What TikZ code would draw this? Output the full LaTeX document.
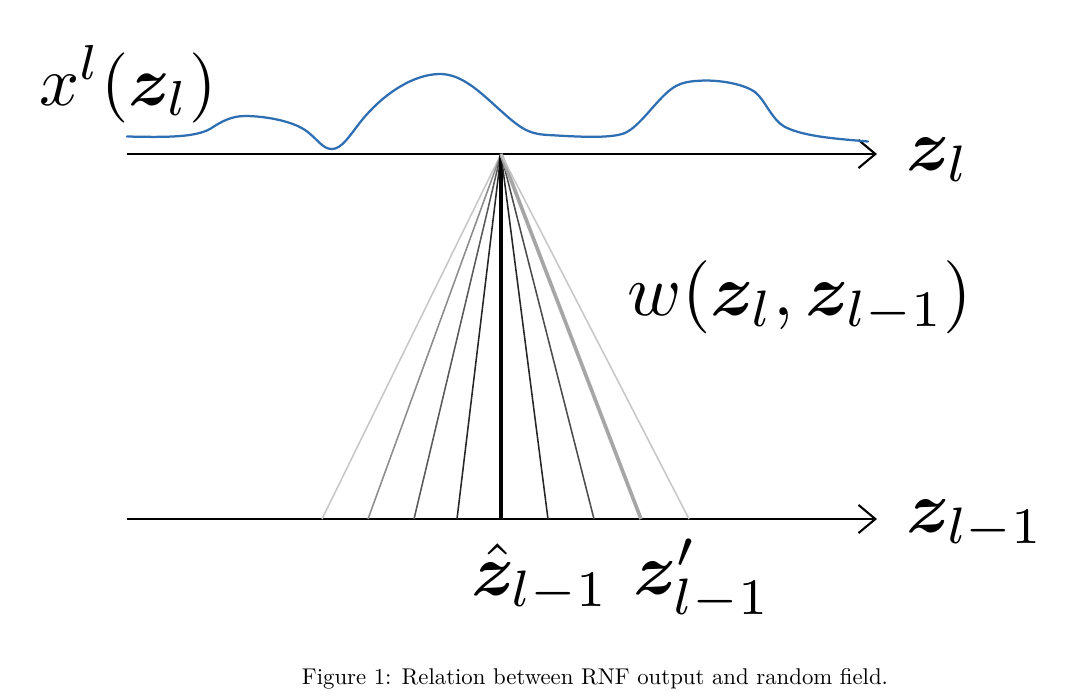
\documentclass[tikz,border=0pt]{standalone}
\usepackage{amsmath,bm}
\usetikzlibrary{arrows.meta}
\definecolor{curveblue}{RGB}{46,110,178}
\tikzset{
  axis/.style={line width=1.5pt,-{Straight Barb[length=12pt,width=20pt,line width=1.5pt]}},
  fanline/.style={line width=1.1pt},
  biglabel/.style={scale=5.2, inner sep=0pt},
}
\begin{document}
\begin{tikzpicture}[x=0.025cm,y=-0.025cm]
\useasboundingbox (0,0) rectangle (1080,698);
% axes
\coordinate (tl) at (127,154);
\coordinate (tr) at (877,154);
\coordinate (bl) at (127,519);
\coordinate (br) at (877,519);
\draw[axis] (tl) -- (tr);
\draw[axis] (bl) -- (br);
% fan
\coordinate (apex) at (501,154);
\coordinate (b1) at (322,519);
\coordinate (b2) at (368,519);
\coordinate (b3) at (414,519);
\coordinate (b4) at (457,519);
\coordinate (b5) at (501,519);
\coordinate (b6) at (548,519);
\coordinate (b7) at (594,519);
\coordinate (b8) at (641,519);
\coordinate (b9) at (689,519);
\draw[fanline, black!22] (apex) -- (b1);
\draw[fanline, black!45] (apex) -- (b2);
\draw[fanline, black!65] (apex) -- (b3);
\draw[fanline, black!85] (apex) -- (b4);
\draw[line width=3pt, black] (apex) -- (b5);
\draw[fanline, black!85] (apex) -- (b6);
\draw[fanline, black!70] (apex) -- (b7);
\draw[line width=2.6pt, black!35] (apex) -- (b8);
\draw[fanline, black!22] (apex) -- (b9);
% curve
\draw[curveblue, line width=1.6pt, line cap=round, line join=round]
  (127,136.5) .. controls (170,137.5) and (195,137) .. (210,129)
  .. controls (222,121) and (232,116) .. (245,116)
  .. controls (262,116) and (290,120) .. (305,130)
  .. controls (318,139) and (322,149) .. (332,149)
  .. controls (342,149) and (350,135) .. (362,120)
  .. controls (385,92) and (415,74) .. (440,74)
  .. controls (462,74) and (480,92) .. (500,110)
  .. controls (520,128) and (528,134) .. (548,135)
  .. controls (575,136.5) and (610,139) .. (625,133)
  .. controls (640,126) and (655,102) .. (670,90)
  .. controls (680,82) and (690,81) .. (705,80.5)
  .. controls (725,80.5) and (745,85) .. (755,92)
  .. controls (765,100) and (772,120) .. (785,127)
  .. controls (805,137) and (840,139) .. (868,141.5);
% labels
\node[biglabel, scale=0.96] (xl) at (128,84) {$x^l(\bm{z}_l)$};
\node[biglabel, anchor=west] (zl) at (905,160) {$\bm{z}_l$};
\node[biglabel] (w) at (800,297) {$w(\bm{z}_l,\bm{z}_{l-1})$};
\node[biglabel, anchor=west] (zl1) at (905,525) {$\bm{z}_{l-1}$};
\node[biglabel] (zhat) at (540,578) {$\hat{\bm{z}}_{l-1}$};
\node[biglabel] (zprime) at (702,580) {$\bm{z}'_{l-1}$};
\node[scale=1.62, inner sep=0pt] (cap) at (595,679) {Figure 1: Relation between RNF output and random field.};
\end{tikzpicture}
\end{document}
